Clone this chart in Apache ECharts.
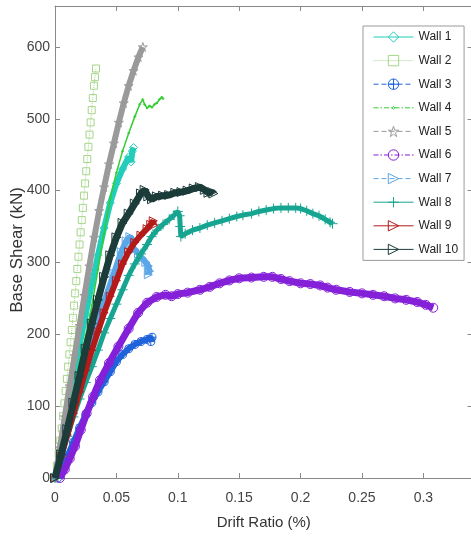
<!DOCTYPE html>
<html>
<head>
<meta charset="utf-8">
<script src="https://cdn.jsdelivr.net/npm/echarts@6/dist/echarts.min.js"></script>
<style>
  html, body { margin: 0; padding: 0; background: #ffffff; }
  #chart { width: 471px; height: 543px; }
</style>
</head>
<body>
<div id="chart"></div>
<script>
// Load–drift envelopes of ten walls: [drift ratio (%), base shear (kN)]
const wallNames = ['Wall 1', 'Wall 2', 'Wall 3', 'Wall 4', 'Wall 5',
                   'Wall 6', 'Wall 7', 'Wall 8', 'Wall 9', 'Wall 10'];

const wall1 = [[0,0],[0.005,48],[0.01,95],[0.015,140],[0.02,185],[0.025,228],[0.03,270],
  [0.035,310],[0.04,348],[0.045,383],[0.05,410],[0.055,430],[0.06,447],[0.062,440],[0.063,455],[0.064,460]];

const wall2 = [[0,0],[0.0015,17],[0.003,34],[0.0043,52],[0.0055,69],[0.0066,86],[0.0077,104],
  [0.0087,121],[0.0097,138],[0.0107,155],[0.0117,172],[0.0127,189],[0.0137,206],[0.0146,223],
  [0.0155,240],[0.0164,257],[0.0173,274],[0.0182,291],[0.0191,308],[0.02,325],[0.0209,342],
  [0.0218,359],[0.0227,376],[0.0236,393],[0.0245,410],[0.0254,427],[0.0263,444],[0.0272,461],
  [0.0281,478],[0.029,495],[0.0299,512],[0.0308,529],[0.0317,546],[0.0325,558],[0.0334,570]];

const wall3 = [[0.002,0],[0.006,15],[0.01,30],[0.015,50],[0.02,70],[0.025,88],[0.03,105],
  [0.035,120],[0.04,134],[0.045,148],[0.05,162],[0.055,172],[0.06,180],[0.065,186],[0.07,190],
  [0.075,193],[0.079,196],[0.078,190]];

const wall4 = [[0,0],[0.005,35],[0.01,75],[0.015,118],[0.02,160],[0.025,198],[0.03,240],
  [0.035,290],[0.04,340],[0.045,390],[0.05,425],[0.055,455],[0.06,480],[0.065,503],[0.069,520],
  [0.0715,527],[0.073,520],[0.075,515],[0.077,518],[0.079,516],[0.081,520],[0.083,522],
  [0.085,527],[0.087,530],[0.088,528]];

const wall5 = [[0,0],[0.004,42],[0.008,85],[0.012,128],[0.016,170],[0.02,212],[0.024,254],
  [0.028,295],[0.032,335],[0.036,372],[0.04,405],[0.044,437],[0.048,466],[0.052,495],
  [0.056,522],[0.06,546],[0.064,567],[0.068,586],[0.0715,600]];

const wall6 = [[0.004,0],[0.008,12],[0.012,27],[0.0163,44],[0.021,67],[0.0258,90],[0.031,113],
  [0.0366,136],[0.044,160],[0.0516,183],[0.06,208],[0.0677,230],[0.075,244],[0.0828,252],
  [0.09,255],[0.095,253],[0.1,256],[0.108,258],[0.118,262],[0.126,266],[0.134,271],[0.142,275],
  [0.15,278],[0.16,279],[0.17,280],[0.177,280],[0.184,277],[0.191,274],[0.2,271],[0.208,270],
  [0.216,268],[0.222,265],[0.229,262],[0.24,259],[0.25,257],[0.259,255],[0.268,253],[0.277,250],
  [0.286,248],[0.295,245],[0.302,241],[0.308,237]];

const wall7 = [[0,0],[0.01,65],[0.02,130],[0.03,190],[0.04,245],[0.048,285],[0.054,315],
  [0.058,330],[0.061,336],[0.063,332],[0.062,322],[0.065,318],[0.068,312],[0.071,306],
  [0.074,300],[0.076,295],[0.077,288],[0.076,283]];

const wall8 = [[0,0],[0.005,30],[0.01,58],[0.015,85],[0.02,110],[0.025,133],[0.03,155],
  [0.035,178],[0.04,202],[0.045,222],[0.05,242],[0.055,262],[0.06,282],[0.065,298],[0.07,312],
  [0.075,325],[0.0786,336],[0.083,345],[0.088,353],[0.093,360],[0.097,366],[0.1,371],
  [0.1015,365],[0.102,350],[0.1025,336],[0.106,340],[0.112,345],[0.118,348],[0.124,352],
  [0.13,355],[0.136,358],[0.142,361],[0.148,364],[0.153,366],[0.16,368],[0.166,371],
  [0.172,373],[0.178,375],[0.184,376],[0.19,376],[0.196,376],[0.2,375],[0.205,372],
  [0.21,368],[0.215,365],[0.22,360],[0.224,356],[0.226,354]];

const wall9 = [[0,0],[0.005,30],[0.01,60],[0.015,90],[0.02,120],[0.025,150],[0.03,178],
  [0.035,204],[0.04,230],[0.045,253],[0.05,275],[0.055,298],[0.06,315],[0.065,328],
  [0.07,338],[0.075,347],[0.078,353],[0.08,358],[0.0805,352]];

const wall10 = [[0,0],[0.005,33],[0.01,68],[0.015,105],[0.02,142],[0.025,180],[0.03,215],
  [0.035,248],[0.04,280],[0.045,310],[0.05,335],[0.055,355],[0.06,368],[0.065,382],
  [0.07,396],[0.073,401],[0.076,392],[0.079,388],[0.083,392],[0.088,393],[0.093,394],
  [0.098,397],[0.103,398],[0.108,400],[0.113,403],[0.118,405],[0.122,401],[0.125,397],
  [0.128,398],[0.129,396]];

const wallData = [wall1, wall2, wall3, wall4, wall5, wall6, wall7, wall8, wall9, wall10];

// Axis limits
const driftMax = 0.34, driftStep = 0.05;
const shearMax = 657, shearStep = 100;

// Marker shapes
const SYM = {
  diamond: 'diamond',
  square: 'rect',
  circlePlus: 'path://M10,0A10,10 0 1 1 9.99,0Z M10,0L10,20 M0,10L20,10',
  dot: 'path://M0,0L0.01,0.01M9.99,9.99L10,10M5,3.6L6.4,5L5,6.4L3.6,5Z',
  star: 'path://M50,0L61,35L98,35L68,57L79,91L50,70L21,91L32,57L2,35L39,35Z',
  circle: 'circle',
  triRight: 'path://M0,0L10,5L0,10Z',
  plus: 'path://M5,0L5,10M0,5L10,5'
};

// Per-wall drawing style: colour, marker, plotted line width, legend dash pattern
const styles = [
  { color: '#22cdb9', symbol: SYM.diamond,    size: 8, width: 6,   dash: 'solid' },
  { color: '#a6d68a', symbol: SYM.square,     size: 7, width: 1,   dash: 'dotted', lineType: 'dotted' },
  { color: '#1f62dc', symbol: SYM.circlePlus, size: 8, width: 6,   dash: [5, 3] },
  { color: '#33cc33', symbol: SYM.dot,        size: 8, width: 1.5, dash: [5, 2, 1.5, 2] },
  { color: '#9a9a9a', symbol: SYM.star,       size: 9, width: 6,   dash: [5, 3] },
  { color: '#8420d8', symbol: SYM.circle,     size: 9, width: 7,   dash: [5, 2, 1.5, 2] },
  { color: '#5ba6e6', symbol: SYM.triRight,   size: 8, width: 6,   dash: [5, 3] },
  { color: '#17a591', symbol: SYM.plus,       size: 10, width: 5,  dash: 'solid' },
  { color: '#b31a1a', symbol: SYM.triRight,   size: 8, width: 6,   dash: 'solid' },
  { color: '#1c3c3a', symbol: SYM.triRight,   size: 9, width: 7,   dash: 'solid' }
];

const FONT = "'Liberation Sans', Arial, sans-serif";
const AXIS_GRAY = '#8a8a8a';

const series = wallNames.map((name, i) => {
  const s = styles[i];
  return {
    name: name,
    type: 'line',
    data: wallData[i],
    symbol: s.symbol,
    symbolSize: s.size,
    showSymbol: true,
    showAllSymbol: true,
    smooth: false,
    clip: true,
    xAxisIndex: 0,
    yAxisIndex: 0,
    lineStyle: { color: s.color, width: s.width, type: s.lineType || 'solid' },
    itemStyle: { color: 'rgba(0,0,0,0)', borderColor: s.color, borderWidth: 1 },
    emphasis: { disabled: true },
    z: 2 + i
  };
});

const legendData = wallNames.map((name, i) => ({
  name: name,
  itemStyle: { color: 'rgba(0,0,0,0)', borderColor: styles[i].color, borderWidth: 1 },
  lineStyle: { color: styles[i].color, width: 1, type: styles[i].dash }
}));

const option = {
  animation: false,
  backgroundColor: '#ffffff',
  grid: {
    left: 55, top: 6, width: 417.5, height: 472,
    containLabel: false, outerBoundsMode: 'none'
  },
  legend: {
    orient: 'vertical',
    left: 363,
    top: 26,
    padding: [5, 6, 5, 10],
    itemWidth: 40,
    itemHeight: 13,
    itemGap: 11.6,
    backgroundColor: '#ffffff',
    borderColor: '#9a9a9a',
    borderWidth: 1,
    borderRadius: 0,
    selectedMode: false,
    textStyle: { fontFamily: FONT, fontSize: 12, color: '#222222' },
    data: legendData
  },
  xAxis: [
    {
      type: 'value', position: 'bottom', min: 0, max: driftMax, interval: driftStep,
      name: 'Drift Ratio (%)', nameLocation: 'middle', nameGap: 37, nameMoveOverlap: false,
      nameTextStyle: { fontFamily: FONT, fontSize: 15, color: '#333333' },
      axisLine: { show: true, onZero: false, lineStyle: { color: AXIS_GRAY, width: 1 } },
      axisTick: { show: true, inside: true, length: 5, lineStyle: { color: AXIS_GRAY } },
      axisLabel: { fontFamily: FONT, fontSize: 14, color: '#444444', margin: 13, showMaxLabel: false },
      splitLine: { show: false }
    },
    {
      type: 'value', position: 'top', min: 0, max: driftMax, interval: driftStep,
      axisLine: { show: true, onZero: false, lineStyle: { color: AXIS_GRAY, width: 1 } },
      axisTick: { show: true, inside: true, length: 5, lineStyle: { color: AXIS_GRAY } },
      axisLabel: { show: false },
      splitLine: { show: false }
    }
  ],
  yAxis: [
    {
      type: 'value', position: 'left', min: 0, max: shearMax, interval: shearStep,
      name: 'Base Shear (kN)', nameLocation: 'middle', nameGap: 29, nameRotate: 90,
      nameMoveOverlap: false,
      nameTextStyle: { fontFamily: FONT, fontSize: 17, color: '#333333', padding: [0, 16, 0, 0] },
      axisLine: { show: true, onZero: false, lineStyle: { color: AXIS_GRAY, width: 1 } },
      axisTick: { show: true, inside: true, length: 5, lineStyle: { color: AXIS_GRAY } },
      axisLabel: { fontFamily: FONT, fontSize: 14, color: '#444444', margin: 5, showMaxLabel: false },
      splitLine: { show: false }
    },
    {
      type: 'value', position: 'right', min: 0, max: shearMax, interval: shearStep,
      axisLine: { show: true, onZero: false, lineStyle: { color: AXIS_GRAY, width: 1 } },
      axisTick: { show: true, inside: true, length: 5, lineStyle: { color: AXIS_GRAY } },
      axisLabel: { show: false },
      splitLine: { show: false }
    }
  ],
  series: series
};

const chart = echarts.init(document.getElementById('chart'), null, { renderer: 'canvas' });
chart.setOption(option);
</script>
</body>
</html>
